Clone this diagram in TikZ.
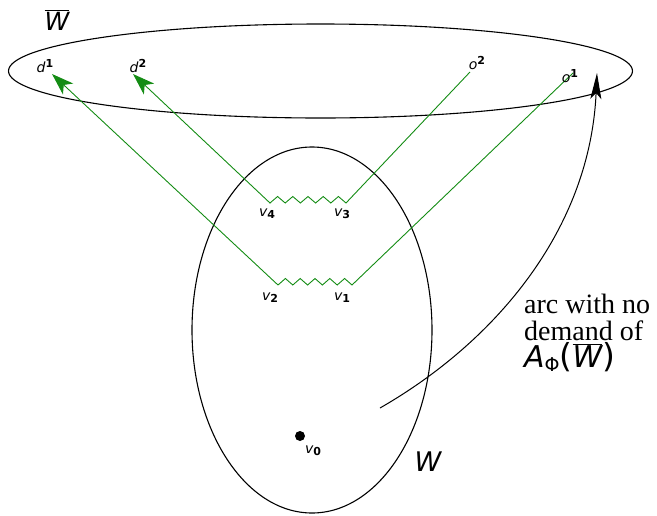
\documentclass[tikz,border=0pt]{standalone}
\usepackage{fontspec}
\setmainfont{Liberation Serif}
\setsansfont{DejaVu Sans}
\usetikzlibrary{arrows.meta,shapes.geometric}
\definecolor{pathgreen}{RGB}{20,140,20}
\newcommand\sublab[2]{{\fontsize{14}{14}\selectfont\sffamily\itshape #1}\raisebox{-2pt}{\fontsize{11}{11}\selectfont\sffamily\bfseries #2}}
\newcommand\suplab[2]{{\fontsize{14}{14}\selectfont\sffamily\itshape #1}\raisebox{5pt}{\fontsize{11}{11}\selectfont\sffamily\bfseries #2}}
\tikzset{
  set/.style={draw=black, line width=1.1pt},
  flow/.style={draw=pathgreen, line width=0.9pt},
  gtip/.style={-{Stealth[length=22pt,width=15pt,inset=6pt]}},
  lab/.style={inner sep=0pt},
}
\begin{document}
\begin{tikzpicture}[x=1pt,y=-1pt]
\useasboundingbox (0,0) rectangle (657,515);
% sets
\node[set, ellipse, minimum width=624pt, minimum height=94pt, inner sep=0pt] (Wbar) at (320.5,71) {};
\node[set, ellipse, minimum width=240pt, minimum height=366pt, inner sep=0pt] (W) at (312,330) {};
\node[lab] (Wbarlab) at (57,20) {\fontsize{25}{25}\selectfont$\overline{\hbox{\sffamily\itshape W}}$};
\node[lab] (Wlab) at (428,462) {\fontsize{27}{27}\selectfont\sffamily\itshape W};
% path endpoints
\coordinate (d1) at (52,74);
\coordinate (d2) at (133,74);
\coordinate (o2) at (470,72);
\coordinate (o1) at (573,73);
\coordinate (c4) at (270,203);
\coordinate (c3) at (346,203);
\coordinate (c2) at (278,285);
\coordinate (c1) at (352,285);
% green paths
\draw[flow, gtip] (o1) -- (c1)
  \foreach \i in {1,...,5} { -- ++(-7.4,-6.5) -- ++(-7.4,6.5) } -- (c2) -- (d1);
\draw[flow, gtip] (o2) -- (c3)
  \foreach \i in {1,...,5} { -- ++(-7.6,-6.5) -- ++(-7.6,6.5) } -- (c4) -- (d2);
% labels
\node[lab] (d1lab) at (45,66) {\suplab{d}{1}};
\node[lab] (d2lab) at (138,66) {\suplab{d}{2}};
\node[lab] (o2lab) at (477,63) {\suplab{o}{2}};
\node[lab] (o1lab) at (570,76) {\suplab{o}{1}};
\node[lab] (v4lab) at (267,214) {\sublab{v}{4}};
\node[lab] (v3lab) at (342,214) {\sublab{v}{3}};
\node[lab] (v2lab) at (270,298) {\sublab{v}{2}};
\node[lab] (v1lab) at (342,298) {\sublab{v}{1}};
% v0
\node[circle, fill=black, minimum size=10pt, inner sep=0pt] (v0) at (300,436) {};
\node[lab] (v0lab) at (313,451) {\sublab{v}{0}};
% arc with no demand
\coordinate (as) at (380,408);
\coordinate (ae) at (597,73);
\draw[line width=1pt, -{Stealth[length=26pt,width=11pt,inset=6pt]}] (as) .. controls (495,342) and (590,230) .. (ae);
\node[lab, anchor=north west, align=left, font=\fontsize{28}{27}\selectfont] (txt) at (524,294) {arc with no\\demand of\\{\fontsize{30}{29}\selectfont\sffamily\itshape A}\raisebox{-4pt}{\fontsize{19}{19}\selectfont\sffamily Φ}{\fontsize{33}{29}\selectfont\sffamily(}$\overline{\hbox{\fontsize{30}{29}\selectfont\sffamily\itshape W}}${\fontsize{33}{29}\selectfont\sffamily)}};
\end{tikzpicture}
\end{document}
